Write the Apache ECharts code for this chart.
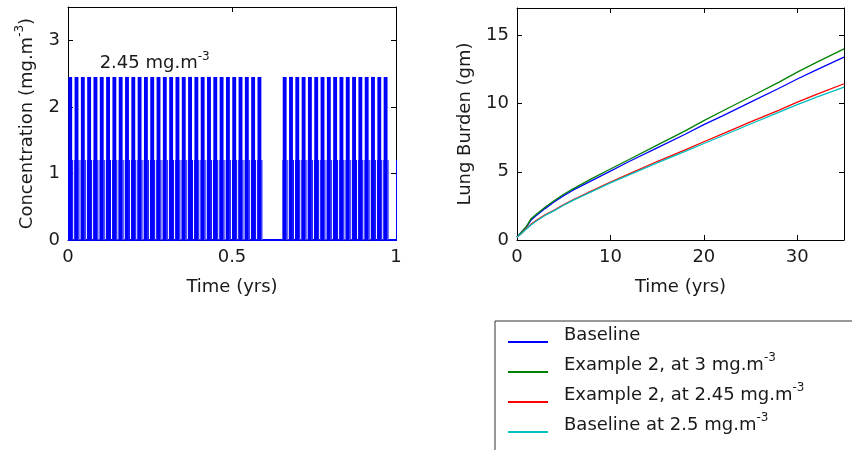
<!DOCTYPE html>
<html>
<head>
<meta charset="utf-8">
<script src="https://cdn.jsdelivr.net/npm/echarts@6/dist/echarts.min.js"></script>
<style>
  html, body { margin: 0; padding: 0; background: #fff; }
  #chart { width: 852px; height: 450px; }
</style>
</head>
<body>
<div id="chart"></div>
<script>
// ---- Exposure schedule (left panel) ----
const weeksPerYear = 52;
// weeks of the year that are worked (a three-week break after week 30)
const workedWeeks = [0, 1, 2, 3, 4, 5, 6, 7, 8, 9, 10, 11, 12, 13, 14, 15, 16, 17, 18, 19, 20,
  21, 22, 23, 24, 25, 26, 27, 28, 29, 30,
  34, 35, 36, 37, 38, 39, 40, 41, 42, 43, 44, 45, 46, 47, 48, 49, 50];
// steps within one worked week: day offset and concentration (mg.m-3)
const weekStepDays = [0, 0.3, 4.6, 5.7];
const weekStepConc = [1.2, 2.45, 1.2, 0];
const yearEndConc = 1.2;
const peakLabelTime = 0.095;
const peakLabelConc = 2.68;

// ---- Lung burden (right panel) ----
const burdenYears   = [0, 0.5, 1, 1.5, 2, 3, 4, 5, 6, 8, 10, 12, 15, 18, 20, 22, 25, 28, 30, 32, 35];
const baseline      = [0.2, 0.6, 0.95, 1.45, 1.75, 2.3, 2.8, 3.25, 3.65, 4.35, 5.05, 5.75, 6.75, 7.75, 8.45, 9.1, 10.1, 11.1, 11.8, 12.45, 13.4];
const example2At3   = [0.2, 0.6, 1.0, 1.55, 1.85, 2.4, 2.9, 3.35, 3.75, 4.5, 5.2, 5.9, 6.95, 8.0, 8.75, 9.45, 10.5, 11.55, 12.3, 13.0, 14.0];
const example2At245 = [0.2, 0.5, 0.85, 1.15, 1.4, 1.85, 2.2, 2.6, 2.95, 3.6, 4.25, 4.85, 5.75, 6.6, 7.2, 7.78, 8.65, 9.5, 10.1, 10.65, 11.45];
const baselineAt25  = [0.2, 0.5, 0.8, 1.1, 1.35, 1.8, 2.15, 2.55, 2.9, 3.55, 4.18, 4.77, 5.65, 6.5, 7.07, 7.64, 8.5, 9.35, 9.92, 10.45, 11.2];

const legendMain = ['Baseline', 'Example 2, at 3 mg.m', 'Example 2, at 2.45 mg.m', 'Baseline at 2.5 mg.m'];
const legendSup  = ['', '-3', '-3', '-3'];
const lineColors = ['#0000ff', '#008000', '#ff0000', '#00bfbf'];

// ---- build the step segments [start, end, concentration] for the exposure panel ----
const stepPoints = [];
workedWeeks.forEach(w => {
  weekStepDays.forEach((d, k) => {
    stepPoints.push([(w + d / 7) / weeksPerYear, weekStepConc[k]]);
  });
});
stepPoints.push([1, yearEndConc]);
const concSegments = stepPoints.map((p, i) => {
  const end = i + 1 < stepPoints.length ? stepPoints[i + 1][0] : p[0];
  return [p[0], end, p[1]];
});

const FONT = 'DejaVu Sans';
const TXT = '#1a1a1a';
const rich = {
  n: { fontFamily: FONT, fontSize: 18, color: TXT, lineHeight: 22, verticalAlign: 'bottom' },
  s: { fontFamily: FONT, fontSize: 12, color: TXT, lineHeight: 12, verticalAlign: 'top', padding: [0, 0, 10, 0] }
};
// every legend row gets the same token heights, with or without an exponent
const legendText = (main, sup) => `{n|${main}}{s|${sup || ' '}}`;
const withSup = (main, sup) => `{n|${main}}` + (sup ? `{s|${sup}}` : '');

function mainAxis(extra) {
  return Object.assign({
    type: 'value',
    axisLine: { show: true, onZero: false, lineStyle: { color: '#000', width: 1 } },
    axisTick: { show: true, inside: true, length: 5, lineStyle: { color: '#000' } },
    axisLabel: { show: true, fontFamily: FONT, fontSize: 18, color: TXT, showMaxLabel: false },
    splitLine: { show: false },
    nameTextStyle: { fontFamily: FONT, fontSize: 18, color: TXT, rich: rich }
  }, extra);
}
function boxAxis(extra) {
  return Object.assign({
    type: 'value',
    axisLine: { show: true, onZero: false, lineStyle: { color: '#000', width: 1 } },
    axisTick: { show: true, inside: true, length: 5, lineStyle: { color: '#000' } },
    axisLabel: { show: false },
    splitLine: { show: false }
  }, extra);
}

const seriesData = [baseline, example2At3, example2At245, baselineAt25];
const seriesNames = legendMain.map((m, i) => m + legendSup[i]);

const chart = echarts.init(document.getElementById('chart'), null, { renderer: 'canvas' });
chart.setOption({
  animation: false,
  backgroundColor: '#fff',
  grid: [
    { left: 68, top: 7, width: 328, height: 233 },
    { left: 517, top: 8, width: 327, height: 232 }
  ],
  xAxis: [
    mainAxis({ gridIndex: 0, min: 0, max: 1, interval: 0.5, position: 'bottom',
      name: 'Time (yrs)', nameLocation: 'middle', nameGap: 38,
      axisLabel: { fontFamily: FONT, fontSize: 18, color: TXT, margin: 8 } }),
    mainAxis({ gridIndex: 1, min: 0, max: 35, interval: 10, position: 'bottom',
      name: 'Time (yrs)', nameLocation: 'middle', nameGap: 38,
      axisLabel: { fontFamily: FONT, fontSize: 18, color: TXT, margin: 8, showMaxLabel: false } }),
    boxAxis({ gridIndex: 0, min: 0, max: 1, interval: 0.5, position: 'top' }),
    boxAxis({ gridIndex: 1, min: 0, max: 35, interval: 10, position: 'top' })
  ],
  yAxis: [
    mainAxis({ gridIndex: 0, min: 0, max: 3.5, interval: 1, position: 'left',
      name: withSup('Concentration (mg.m', '-3') + '{n|)}', nameLocation: 'middle', nameGap: 32,
      axisLabel: { fontFamily: FONT, fontSize: 18, color: TXT, margin: 8, showMaxLabel: false } }),
    mainAxis({ gridIndex: 1, min: 0, max: 17, interval: 5, position: 'left',
      name: 'Lung Burden (gm)', nameLocation: 'middle', nameGap: 43,
      axisLabel: { fontFamily: FONT, fontSize: 18, color: TXT, margin: 8, showMaxLabel: false } }),
    boxAxis({ gridIndex: 0, min: 0, max: 3.5, interval: 1, position: 'right' }),
    boxAxis({ gridIndex: 1, min: 0, max: 17, interval: 5, position: 'right' })
  ],
  legend: {
    orient: 'vertical',
    left: 495, top: 321,
    height: 300,
    padding: [1, 60, 30, 13],
    itemGap: 8,
    itemWidth: 40, itemHeight: 2,
    icon: 'rect',
    borderColor: '#333', borderWidth: 1,
    backgroundColor: '#fff',
    data: seriesNames,
    formatter: name => {
      const i = seriesNames.indexOf(name);
      return legendText(legendMain[i], legendSup[i]);
    },
    textStyle: { fontFamily: FONT, fontSize: 18, color: TXT, padding: [0, 0, 18, 11], rich: rich }
  },
  series: [
    {
      type: 'custom', name: 'Concentration',
      xAxisIndex: 0, yAxisIndex: 0,
      clip: false, z: 5,
      data: concSegments,
      encode: { x: [0, 1], y: 2 },
      renderItem: (params, api) => {
        const p0 = api.coord([api.value(0), api.value(2)]);
        const p1 = api.coord([api.value(1), 0]);
        const w = Math.max(p1[0] - p0[0], 1);
        // a zero level still shows as a thin trace along the baseline
        const h = Math.max(p1[1] - p0[1], 1);
        return {
          type: 'rect',
          shape: { x: p0[0], y: p1[1] - h, width: w, height: h + 1 },
          style: { fill: '#0000ff' }
        };
      },
      markPoint: {
        symbol: 'circle', symbolSize: 1,
        itemStyle: { color: 'rgba(0,0,0,0)' },
        data: [{ coord: [peakLabelTime, peakLabelConc] }],
        label: { show: true, position: 'right', distance: 0,
          formatter: withSup('2.45 mg.m', '-3'), rich: rich }
      }
    }
  ].concat(seriesData.map((d, i) => ({
    type: 'line', name: seriesNames[i],
    xAxisIndex: 1, yAxisIndex: 1,
    showSymbol: false,
    data: burdenYears.map((t, j) => [t, d[j]]),
    lineStyle: { color: lineColors[i], width: 1.3 },
    itemStyle: { color: lineColors[i] }
  })))
});
</script>
</body>
</html>
